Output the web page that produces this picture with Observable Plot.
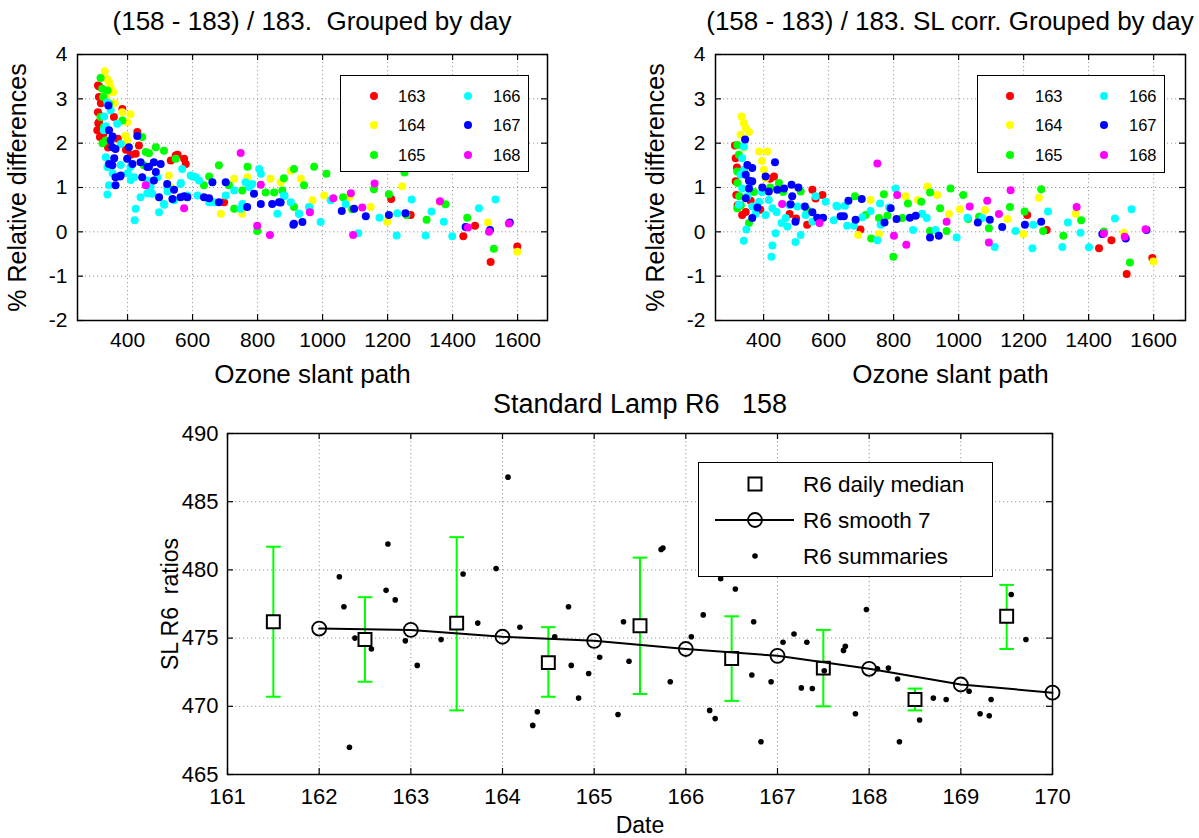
<!DOCTYPE html>
<html><head><meta charset="utf-8">
<script src="https://cdn.jsdelivr.net/npm/d3@7"></script>
<script src="https://cdn.jsdelivr.net/npm/@observablehq/plot@0.6"></script>
<style>
body{margin:0;background:#fff;font-family:"Liberation Sans",Arial,sans-serif;color:#000;}
#root{position:relative;width:1199px;height:838px;overflow:hidden;background:#fff;}
.plot{position:absolute;}
.title{position:absolute;white-space:pre;font-size:22px;line-height:1;transform:translateX(-50%);}
.legend{position:absolute;background:#fff;border:1.5px solid #000;box-sizing:border-box;}
.legend svg{position:absolute;left:0;top:0;overflow:visible;}
</style></head><body><div id="root"></div>
<script>
// ---------- data ----------
const days = [163, 164, 165, 166, 167, 168];
const dayColors = ["#ff0000", "#ffff00", "#00ff00", "#00ffff", "#0000ff", "#ff00ff"];
const ozoneTicks = [400, 600, 800, 1000, 1200, 1400, 1600];
const diffTicks = [-2, -1, 0, 1, 2, 3, 4];

// left panel: [ozone slant path, % relative difference]
const L163 = [[309,3.3],[312,3.04],[309,2.7],[312,2.47],[307,2.29],[315,2.14],[313,3.28],[310,2.45],[318,2.9],[320,2.6],[384,2.77],[358,2.59],[430,2.25],[435,1.95],[425,1.76],[410,1.74],[548,1.72],[574,1.65],[579,1.53],[533,1.61],[554,1.74],[697,0.67],[1211,0.74],[1271,0.38],[1433,-0.1],[1469,0.14],[1517,-0.68],[1599,-0.33],[325,2.2],[340,1.9],[370,2.1],[395,1.85]];
const L164 = [[330,3.62],[337,3.45],[343,3.38],[348,3.26],[356,3.15],[349,3.17],[384,2.7],[409,2.65],[399,2.47],[394,2.17],[399,2.06],[527,1.27],[533,1.0],[687,0.41],[728,1.2],[769,1.23],[753,0.41],[840,1.2],[871,1.12],[902,1.38],[933,1.2],[969,0.71],[1005,0.82],[1082,0.78],[1148,0.56],[1199,0.23],[1245,1.03],[1361,0.68],[1509,0.21],[1599,-0.45],[335,3.0],[360,2.9]];
const L165 = [[317,3.47],[322,3.23],[325,3.04],[338,3.19],[343,2.89],[317,2.59],[327,2.36],[333,2.06],[323,2.0],[384,2.51],[445,2.14],[456,1.8],[466,1.77],[487,1.91],[512,1.83],[548,1.65],[450,1.5],[681,1.5],[651,1.25],[635,1.05],[712,1.05],[769,1.47],[728,0.52],[753,0.93],[825,0.89],[851,0.89],[876,0.93],[881,1.21],[912,1.42],[943,1.05],[974,1.47],[1012,1.31],[799,0.02],[912,0.56],[1063,0.78],[1091,0.51],[1158,0.96],[1204,0.85],[1258,0.38],[1320,0.27],[1378,0.62],[1445,0.32],[1527,-0.38],[1252,1.34]];
const L166 = [[338,0.84],[343,1.05],[333,1.68],[338,1.46],[327,2.29],[338,2.92],[328,2.6],[333,2.38],[348,2.74],[368,2.44],[379,1.98],[399,1.65],[409,1.46],[420,1.23],[425,0.52],[422,0.26],[440,0.78],[461,1.16],[461,0.87],[471,1.01],[476,0.86],[492,1.23],[497,0.44],[512,0.63],[522,1.01],[543,0.71],[563,1.08],[568,1.42],[584,0.82],[594,1.27],[610,1.23],[620,1.16],[615,0.82],[651,0.67],[666,0.67],[702,0.82],[728,0.93],[748,0.52],[763,1.12],[774,1.01],[784,1.08],[805,1.42],[810,1.31],[753,0.63],[861,0.41],[881,0.82],[902,0.67],[928,0.41],[958,0.56],[994,0.22],[1025,0.71],[1071,0.63],[1110,-0.03],[1175,0.32],[1228,-0.08],[1230,0.42],[1274,0.73],[1317,-0.08],[1335,0.46],[1373,0.23],[1399,-0.1],[1481,0.53],[1532,0.73],[354,1.32],[379,1.51],[400,1.32],[410,1.17],[513,0.61],[523,0.91],[564,1.1],[600,1.25],[883,0.81],[927,0.41],[960,0.55]];
const L167 = [[341,2.85],[343,2.29],[348,2.06],[353,1.91],[363,1.87],[343,1.53],[353,1.5],[363,1.23],[363,1.05],[379,1.27],[404,1.91],[430,2.16],[399,1.65],[415,1.53],[440,1.57],[461,1.46],[481,1.57],[487,1.35],[502,1.53],[445,1.23],[481,1.16],[522,1.08],[497,0.78],[538,0.74],[563,0.78],[584,0.78],[635,0.78],[651,0.76],[661,1.12],[681,0.67],[702,1.12],[768,0.56],[789,0.86],[810,0.63],[845,0.63],[866,0.67],[912,0.18],[938,0.22],[1059,0.47],[1097,0.52],[871,0.66],[910,0.16],[1133,0.35],[1204,0.38],[1255,0.42],[1440,0.11],[1515,0.04],[1576,0.21],[354,2.15],[359,1.66],[377,1.25],[466,1.47],[543,0.95],[574,0.8]];
const L168 = [[456,1.05],[574,0.53],[748,1.78],[799,0.14],[810,1.06],[838,-0.07],[961,0.44],[1033,0.76],[1087,0.87],[1094,-0.07],[1122,0.55],[1160,1.09],[1361,0.69],[1447,0.1],[1512,0.0],[1573,0.19]];

// right panel (SL corrected)
const R163 = [[314,1.66],[314,1.14],[316,0.83],[334,0.38],[432,1.25],[550,0.95],[581,0.83],[534,0.16],[698,0.05],[1211,0.38],[1271,0.04],[1432,-0.37],[1470,-0.19],[1517,-0.95],[1596,-0.59],[312,1.95],[318,1.45],[320,0.6],[345,0.45],[360,0.7],[390,0.5],[420,1.2],[480,0.4],[500,0.3],[560,0.75]];
const R164 = [[332,2.6],[339,2.45],[345,2.34],[355,2.25],[329,2.19],[386,1.81],[411,1.81],[401,1.4],[406,1.21],[729,0.72],[691,-0.07],[755,-0.05],[837,0.8],[875,0.72],[904,1.02],[934,0.83],[970,0.4],[1004,0.51],[1081,0.49],[1150,0.29],[1199,-0.05],[1247,0.77],[1360,0.41],[1509,-0.02],[1599,-0.67],[340,1.9],[395,1.6]];
const R165 = [[319,1.96],[324,1.74],[319,1.36],[319,0.53],[355,0.2],[447,1.1],[514,0.91],[534,0.5],[681,0.8],[714,0.38],[731,-0.15],[770,0.85],[781,0.36],[755,0.31],[799,-0.56],[827,0.31],[844,0.64],[885,0.68],[912,0.89],[912,0.02],[943,0.53],[963,0.02],[975,0.98],[1014,0.83],[1029,0.29],[1063,0.34],[1093,0.08],[1158,0.56],[1203,0.46],[1254,0.96],[1260,0.02],[1322,-0.09],[1377,0.26],[1447,0.01],[1527,-0.69],[320,1.1],[325,0.8],[330,0.6],[370,0.9],[420,1.0],[460,0.9]];
const R166 = [[339,1.92],[334,1.66],[329,1.29],[334,0.98],[324,0.61],[347,0.05],[339,-0.2],[365,0.57],[386,0.68],[406,0.38],[416,0.72],[427,0.53],[437,-0.03],[427,-0.31],[424,-0.56],[468,0.31],[473,0.12],[498,-0.23],[514,-0.07],[504,0.57],[529,0.38],[550,0.23],[560,0.8],[591,0.68],[616,0.26],[624,0.59],[657,0.14],[704,0.33],[729,0.47],[627,0.57],[650,0.59],[678,0.14],[750,-0.19],[758,0.64],[760,0.16],[786,0.55],[806,0.98],[860,0.04],[888,0.41],[902,0.31],[929,0.04],[994,-0.13],[1027,0.32],[1073,0.31],[1111,-0.34],[1175,0.02],[1230,0.16],[1227,-0.37],[1275,0.46],[1319,-0.34],[1336,0.21],[1375,-0.02],[1401,-0.35],[1481,0.3],[1532,0.51],[340,1.4],[350,0.8],[360,1.1],[375,0.4],[395,0.9],[440,0.45],[455,0.2],[480,0.6]];
const R167 = [[343,2.08],[350,1.51],[365,1.44],[345,1.29],[355,1.15],[365,1.14],[355,0.98],[345,0.76],[406,1.25],[435,1.57],[396,1.0],[416,0.91],[442,0.95],[463,0.98],[486,1.06],[507,1.0],[488,0.8],[483,0.62],[527,0.57],[498,0.23],[550,0.44],[565,0.32],[583,0.32],[637,0.35],[661,0.7],[702,0.74],[683,0.27],[647,0.35],[365,0.31],[381,0.55],[772,0.21],[791,0.53],[809,0.29],[850,0.32],[868,0.36],[912,-0.13],[939,-0.09],[1059,0.21],[1096,0.27],[1134,0.11],[1204,0.16],[1254,0.23],[1442,-0.05],[1514,-0.15],[1578,0.04]];
const R168 = [[457,0.63],[572,0.2],[750,1.54],[811,0.83],[801,-0.09],[839,-0.29],[963,0.23],[1034,0.57],[1088,0.7],[1093,-0.24],[1124,0.4],[1160,0.94],[1363,0.56],[1447,-0.04],[1511,-0.11],[1575,0.06]];

// bottom panel
const dateTicks = [161, 162, 163, 164, 165, 166, 167, 168, 169, 170];
const ratioTicks = [465, 470, 475, 480, 485, 490];
const medDates = [161.5, 162.5, 163.5, 164.5, 165.5, 166.5, 167.5, 168.5, 169.5];
const medValues = [476.2, 474.9, 476.1, 473.2, 475.9, 473.5, 472.8, 470.5, 476.6];
const medLow  = [470.7, 471.8, 469.7, 470.7, 470.9, 470.4, 470.0, 469.7, 474.2];
const medHigh = [481.7, 478.0, 482.4, 475.8, 480.9, 476.6, 475.6, 471.3, 478.9];
const smoothDates = [162, 163, 164, 165, 166, 167, 168, 169, 170];
const smoothValues = [475.7, 475.6, 475.1, 474.8, 474.2, 473.7, 472.75, 471.6, 471.0];
const sumDates = [162.22,162.27,162.33,162.39,162.57,162.75,162.73,162.83,162.94,163.07,163.33,163.57,163.73,163.93,164.06,164.19,164.33,164.38,164.57,164.72,164.75,164.83,164.94,165.06,165.26,165.32,165.38,165.73,165.75,165.83,166.06,166.19,166.26,166.32,166.38,166.54,166.72,166.74,166.82,166.93,167.06,167.18,167.26,167.38,167.32,167.51,167.72,167.74,167.85,167.97,168.09,168.21,168.31,168.33,168.55,168.70,168.84,169.09,169.21,169.31,169.33,169.55,169.71];
const sumValues = [479.5,477.3,467.0,475.0,474.2,481.9,478.5,477.8,474.8,473.0,474.9,479.7,476.1,480.1,486.8,475.8,468.6,469.6,475.1,477.3,473.0,470.6,472.4,473.6,469.4,476.2,473.3,481.5,481.6,471.8,475.1,476.7,469.7,469.1,479.35,478.6,472.3,476.2,467.4,471.8,474.7,475.3,471.35,471.3,474.7,472.6,474.1,474.4,469.45,477.1,472.75,472.8,472.0,467.4,469.0,470.6,470.5,471.1,469.45,469.3,470.5,478.2,474.9];

// ---------- helpers ----------
const FONT = "Liberation Sans, Arial, sans-serif";
const root = document.getElementById("root");
function place(el, left, top) { el.classList.add("plot"); el.style.left = left + "px"; el.style.top = top + "px"; root.appendChild(el); return el; }
const grid = {stroke: "#9a9a9a", strokeOpacity: 1, strokeDasharray: "1.2,2.8", strokeWidth: 1};
const plain = d => String(d);

function innerTicks(xt, yt, iw, ih) {
  const t = {stroke: "#000", strokeWidth: 1.2};
  return [
    Plot.tickX(xt, {x: d => d, insetTop: ih - 6, ...t}),
    Plot.tickX(xt, {x: d => d, insetBottom: ih - 6, ...t}),
    Plot.tickY(yt, {y: d => d, insetRight: iw - 6, ...t}),
    Plot.tickY(yt, {y: d => d, insetLeft: iw - 6, ...t})
  ];
}

function scatter(series, domainX, width, ml, mr) {
  const rows = [];
  days.forEach((d, i) => series[i].forEach(([x, y]) => rows.push({day: d, x, y})));
  const H = 400, mt = 54, mb = 80;
  return Plot.plot({
    width, height: H, marginLeft: ml, marginRight: mr, marginTop: mt, marginBottom: mb,
    x: {domain: domainX}, y: {domain: [-2, 4]},
    color: {type: "ordinal", domain: days, range: dayColors},
    style: {fontFamily: FONT, background: "transparent", color: "#000", overflow: "visible"},
    marks: [
      Plot.gridX(ozoneTicks, grid),
      Plot.gridY(diffTicks, grid),
      Plot.dot(rows, {x: "x", y: "y", r: 4, fill: "day", stroke: null}),
      ...innerTicks(ozoneTicks, diffTicks, width - ml - mr, H - mt - mb),
      Plot.frame({stroke: "#000", strokeWidth: 1.5}),
      Plot.axisX(ozoneTicks, {tickSize: 0, tickPadding: 12, fontSize: 21, tickFormat: plain, label: null}),
      Plot.axisY(diffTicks, {tickSize: 0, tickPadding: 10, fontSize: 21, tickFormat: plain, label: null}),
      Plot.axisX([], {tickSize: 0, label: "Ozone slant path", labelArrow: "none", labelAnchor: "center", labelOffset: 62, fontSize: 26}),
      Plot.axisY([], {tickSize: 0, label: "% Relative differences", labelArrow: "none", labelAnchor: "center", labelOffset: 69, fontSize: 25})
    ]
  });
}

place(scatter([L163, L164, L165, L166, L167, L168], [246, 1692], 600, 77, 53), 0, 0);
place(scatter([R163, R164, R165, R166, R167, R168], [252, 1698], 599, 115, 14), 600, 0);

// bottom panel
const meds = medDates.map((d, i) => ({date: d, v: medValues[i], lo: medLow[i], hi: medHigh[i]}));
const smooth = smoothDates.map((d, i) => ({date: d, v: smoothValues[i]}));
const sums = sumDates.map((d, i) => ({date: d, v: sumValues[i]}));
const capHalf = 0.08;
{
  const W = 1199, H = 458, ml = 227, mr = 147, mt = 53, mb = 64;
  const p = Plot.plot({
    width: W, height: H, marginLeft: ml, marginRight: mr, marginTop: mt, marginBottom: mb,
    x: {domain: [161, 170]}, y: {domain: [465, 490]},
    style: {fontFamily: FONT, background: "transparent", color: "#000", overflow: "visible"},
    marks: [
      Plot.gridX(dateTicks, grid),
      Plot.gridY(ratioTicks, grid),
      Plot.ruleX(meds, {x: "date", y1: "lo", y2: "hi", stroke: "#00ff00", strokeWidth: 2}),
      Plot.link(meds, {x1: d => d.date - capHalf, x2: d => d.date + capHalf, y1: "lo", y2: "lo", stroke: "#00ff00", strokeWidth: 2}),
      Plot.link(meds, {x1: d => d.date - capHalf, x2: d => d.date + capHalf, y1: "hi", y2: "hi", stroke: "#00ff00", strokeWidth: 2}),
      Plot.dot(meds, {x: "date", y: "v", symbol: "square", r: 7.3, stroke: "#000", strokeWidth: 2, fill: "#fff"}),
      Plot.line(smooth, {x: "date", y: "v", stroke: "#000", strokeWidth: 2}),
      Plot.dot(smooth, {x: "date", y: "v", r: 7, stroke: "#000", strokeWidth: 1.8, fill: "none"}),
      Plot.dot(sums, {x: "date", y: "v", r: 2.8, fill: "#000", stroke: null}),
      ...innerTicks(dateTicks, ratioTicks, W - ml - mr, H - mt - mb),
      Plot.frame({stroke: "#000", strokeWidth: 1.5}),
      Plot.axisX(dateTicks, {tickSize: 0, tickPadding: 14, fontSize: 22, tickFormat: plain, label: null}),
      Plot.axisY(ratioTicks, {tickSize: 0, tickPadding: 9, fontSize: 22, tickFormat: plain, label: null}),
      Plot.axisX([], {tickSize: 0, label: "Date", labelArrow: "none", labelAnchor: "center", labelOffset: 58, fontSize: 23}),
      Plot.axisY([], {tickSize: 0, label: "SL R6\u00a0 ratios", labelArrow: "none", labelAnchor: "center", labelOffset: 66, fontSize: 23})
    ]
  });
  place(p, 0, 380);
}

// ---------- titles ----------
function title(text, cx, top, size) {
  const d = document.createElement("div");
  d.className = "title"; d.textContent = text;
  d.style.left = cx + "px"; d.style.top = top + "px"; d.style.fontSize = size + "px";
  root.appendChild(d);
}
title("(158 - 183) / 183.  Grouped by day", 312, 8, 26);
title("(158 - 183) / 183. SL corr. Grouped by day", 950, 8, 26);
title("Standard Lamp R6   158", 640, 391, 27);

// ---------- legends ----------
function dayLegend(left, top, w, h, c1, c2, t1, t2) {
  const box = document.createElement("div");
  box.className = "legend";
  Object.assign(box.style, {left: left + "px", top: top + "px", width: w + "px", height: h + "px"});
  const rowsY = [20, 49, 79];
  let s = `<svg width="${w}" height="${h}" font-family="${FONT}" font-size="16.5">`;
  days.forEach((d, i) => {
    const col = i < 3 ? 0 : 1, row = i % 3;
    const cx = col ? c2 : c1, tx = col ? t2 : t1;
    s += `<circle cx="${cx}" cy="${rowsY[row]}" r="4" fill="${dayColors[i]}"/>`;
    s += `<text x="${tx}" y="${rowsY[row]}" dy="0.36em">${d}</text>`;
  });
  s += `</svg>`;
  box.innerHTML = s;
  root.appendChild(box);
}
dayLegend(340, 75, 189, 97, 33, 127, 57, 152);
dayLegend(977, 75, 188, 98, 32, 126, 57, 151);

{
  const box = document.createElement("div");
  box.className = "legend";
  Object.assign(box.style, {left: "698px", top: "462px", width: "295px", height: "115px"});
  const labels = ["R6 daily median", "R6 smooth 7", "R6 summaries"];
  const ry = [21, 57, 93];
  let s = `<svg width="295" height="115" font-family="${FONT}" font-size="22.5">`;
  s += `<rect x="${56 - 6.5}" y="${ry[0] - 6.5}" width="13" height="13" fill="#fff" stroke="#000" stroke-width="2"/>`;
  s += `<line x1="16" x2="95" y1="${ry[1]}" y2="${ry[1]}" stroke="#000" stroke-width="2"/>`;
  s += `<circle cx="56" cy="${ry[1]}" r="7" fill="none" stroke="#000" stroke-width="1.8"/>`;
  s += `<circle cx="56" cy="${ry[2]}" r="2.8" fill="#000"/>`;
  labels.forEach((t, i) => { s += `<text x="104" y="${ry[i]}" dy="0.36em">${t}</text>`; });
  s += `</svg>`;
  box.innerHTML = s;
  root.appendChild(box);
}
</script></body></html>
